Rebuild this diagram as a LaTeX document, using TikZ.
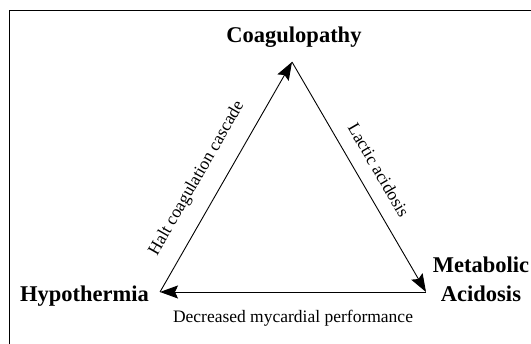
\documentclass[tikz,border=0pt]{standalone}
\usepackage{fontspec}
\setmainfont{Liberation Serif}
\usetikzlibrary{arrows.meta}

\begin{document}
\begin{tikzpicture}[x=1pt,y=1pt,
  frame/.style={line width=1.8pt},
  link/.style={line width=0.9pt,-{Stealth[length=18pt,width=13pt,inset=3pt]}},
  vertex/.style={inner sep=0pt,font=\fontsize{22.5}{29}\selectfont\bfseries},
  edgelabel/.style={inner sep=0pt,font=\fontsize{17.5}{20}\selectfont}]
\useasboundingbox (0,0) rectangle (531,344);
\draw[frame] (9.5,-2) -- (9.5,333.5) -- (533,333.5);
% corners of the triangle
\coordinate (coag) at (292,282);
\coordinate (hypo) at (160,52);
\coordinate (meta) at (426,52);
\node[vertex,anchor=base] (coaglabel) at (294,301) {Coagulopathy};
\node[vertex,anchor=base east] (hypolabel) at (149,42) {Hypothermia};
\node[vertex,anchor=base,align=center] (metalabel) at (481,42) {Metabolic\\Acidosis};
\draw[link] (hypo) -- node[edgelabel,sloped,above=16pt,pos=0.44] (haltlabel) {Halt coagulation cascade} (coag);
\draw[link] (coag) -- node[edgelabel,sloped,above=14pt,pos=0.515] (lacticlabel) {Lactic acidosis} (meta);
\draw[link] (meta) -- node[edgelabel,below=17.4pt] (myolabel) {Decreased mycardial performance} (hypo);
\end{tikzpicture}
\end{document}
